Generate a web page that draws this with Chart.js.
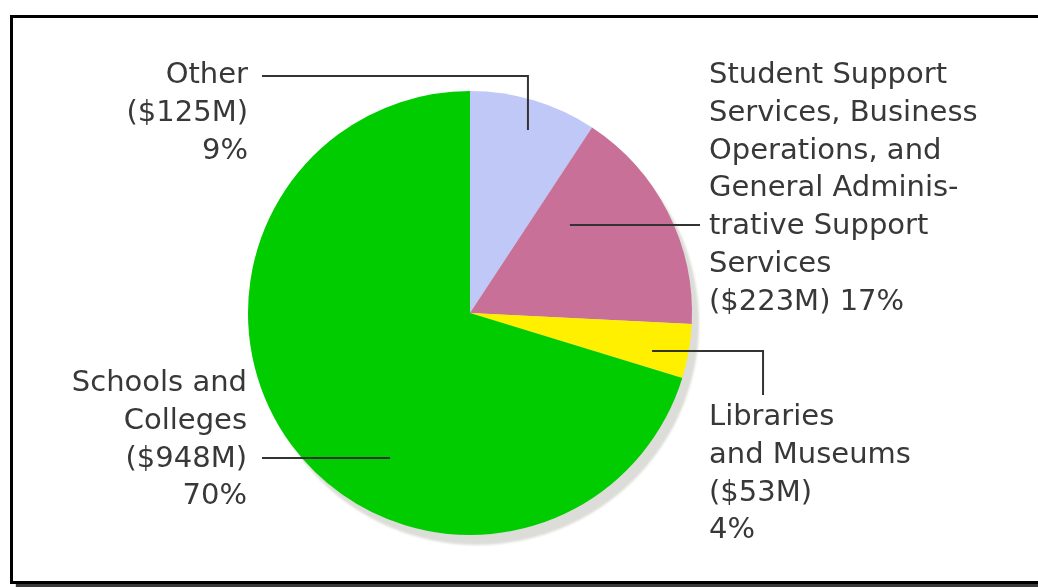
<!DOCTYPE html>
<html>
<head>
<meta charset="utf-8">
<title>Expenditures by Function</title>
<script src="https://cdn.jsdelivr.net/npm/chart.js@4.4.1/dist/chart.umd.min.js"></script>
<style>
  html, body { margin: 0; padding: 0; background: #fff; overflow: hidden; }
  #wrap { position: relative; width: 1038px; height: 587px; }
  #frame {
    position: absolute; left: 10px; top: 15px; width: 1100px; height: 563px;
    border: 3px solid #000; box-shadow: 6px 4px 1px #3a3a3a; pointer-events: none;
  }
  #chart { position: absolute; left: 0; top: 0; }
</style>
</head>
<body>
<div id="wrap">
  <canvas id="chart" width="1038" height="587"></canvas>
  <div id="frame"></div>
</div>
<script>
// Spending categories, in millions of dollars, clockwise from 12 o'clock
const categories = ['Other', 'Student Support Services, Business Operations, and General Administrative Support Services', 'Libraries and Museums', 'Schools and Colleges'];
const nameLines = [
  ['Other'],
  ['Student Support', 'Services, Business', 'Operations, and', 'General Adminis-', 'trative Support', 'Services'],
  ['Libraries', 'and Museums'],
  ['Schools and', 'Colleges']
];
const amounts = [125, 223, 53, 948];
const sliceColors = ['#c0c8f8', '#c87098', '#fff000', '#00cc00'];

const total = amounts.reduce((a, b) => a + b, 0);
const percents = amounts.map(v => Math.round(v / total * 100));

// Callout layout: text anchor offsets in px from the pie centre,
// leader polylines in units of the pie radius.
const callouts = [
  { align: 'right', dx: -222, dy: -230, joinAmount: false,
    leader: [[-0.937, -1.068], [0.261, -1.068], [0.261, -0.824]] },
  { align: 'left', dx: 239, dy: -230, joinAmount: true,
    leader: [[0.450, -0.396], [1.036, -0.396]] },
  { align: 'left', dx: 239, dy: 112, joinAmount: false,
    leader: [[0.820, 0.171], [1.320, 0.171], [1.320, 0.369]] },
  { align: 'right', dx: -223, dy: 78, joinAmount: false,
    leader: [[-0.937, 0.653], [-0.360, 0.653]] }
];
const LINE_STEP = 37.8;
const TEXT_FONT = '29px "DejaVu Sans", Verdana, sans-serif';
const TEXT_COLOR = '#383838';

// Grey disc under the pie, offset down and to the right
const pieShadow = {
  id: 'pieShadow',
  beforeDatasetsDraw(chart) {
    const arc = chart.getDatasetMeta(0).data[0];
    if (!arc) return;
    const ctx = chart.ctx;
    ctx.save();
    ctx.filter = 'blur(0.8px)';
    ctx.fillStyle = '#dcdcd8';
    ctx.beginPath();
    ctx.arc(arc.x + 7, arc.y + 10, arc.outerRadius, 0, Math.PI * 2);
    ctx.fill();
    ctx.restore();
  }
};

// Leader lines and multi-line labels
const callLabels = {
  id: 'callLabels',
  afterDatasetsDraw(chart) {
    const meta = chart.getDatasetMeta(0);
    const ctx = chart.ctx;
    ctx.save();
    meta.data.forEach((arc, i) => {
      const c = callouts[i];
      const R = arc.outerRadius;
      ctx.strokeStyle = '#333';
      ctx.lineWidth = 2;
      ctx.beginPath();
      c.leader.forEach((p, k) => {
        const x = arc.x + p[0] * R, y = arc.y + p[1] * R;
        if (k === 0) ctx.moveTo(x, y); else ctx.lineTo(x, y);
      });
      ctx.stroke();

      const amt = '($' + amounts[i] + 'M)';
      const pct = percents[i] + '%';
      const lines = nameLines[i].concat(c.joinAmount ? [amt + ' ' + pct] : [amt, pct]);
      ctx.font = TEXT_FONT;
      ctx.fillStyle = TEXT_COLOR;
      ctx.textAlign = c.align;
      ctx.textBaseline = 'alphabetic';
      lines.forEach((t, k) => {
        ctx.fillText(t, arc.x + c.dx, arc.y + c.dy + k * LINE_STEP);
      });
    });
    ctx.restore();
  }
};

new Chart(document.getElementById('chart'), {
  type: 'pie',
  data: {
    labels: categories,
    datasets: [{
      data: amounts,
      backgroundColor: sliceColors,
      borderWidth: 0,
      hoverOffset: 0
    }]
  },
  options: {
    responsive: false,
    animation: false,
    layout: { padding: { left: 248, right: 346, top: 91, bottom: 52 } },
    plugins: {
      legend: { display: false },
      tooltip: { enabled: false }
    }
  },
  plugins: [pieShadow, callLabels]
});
</script>
</body>
</html>
